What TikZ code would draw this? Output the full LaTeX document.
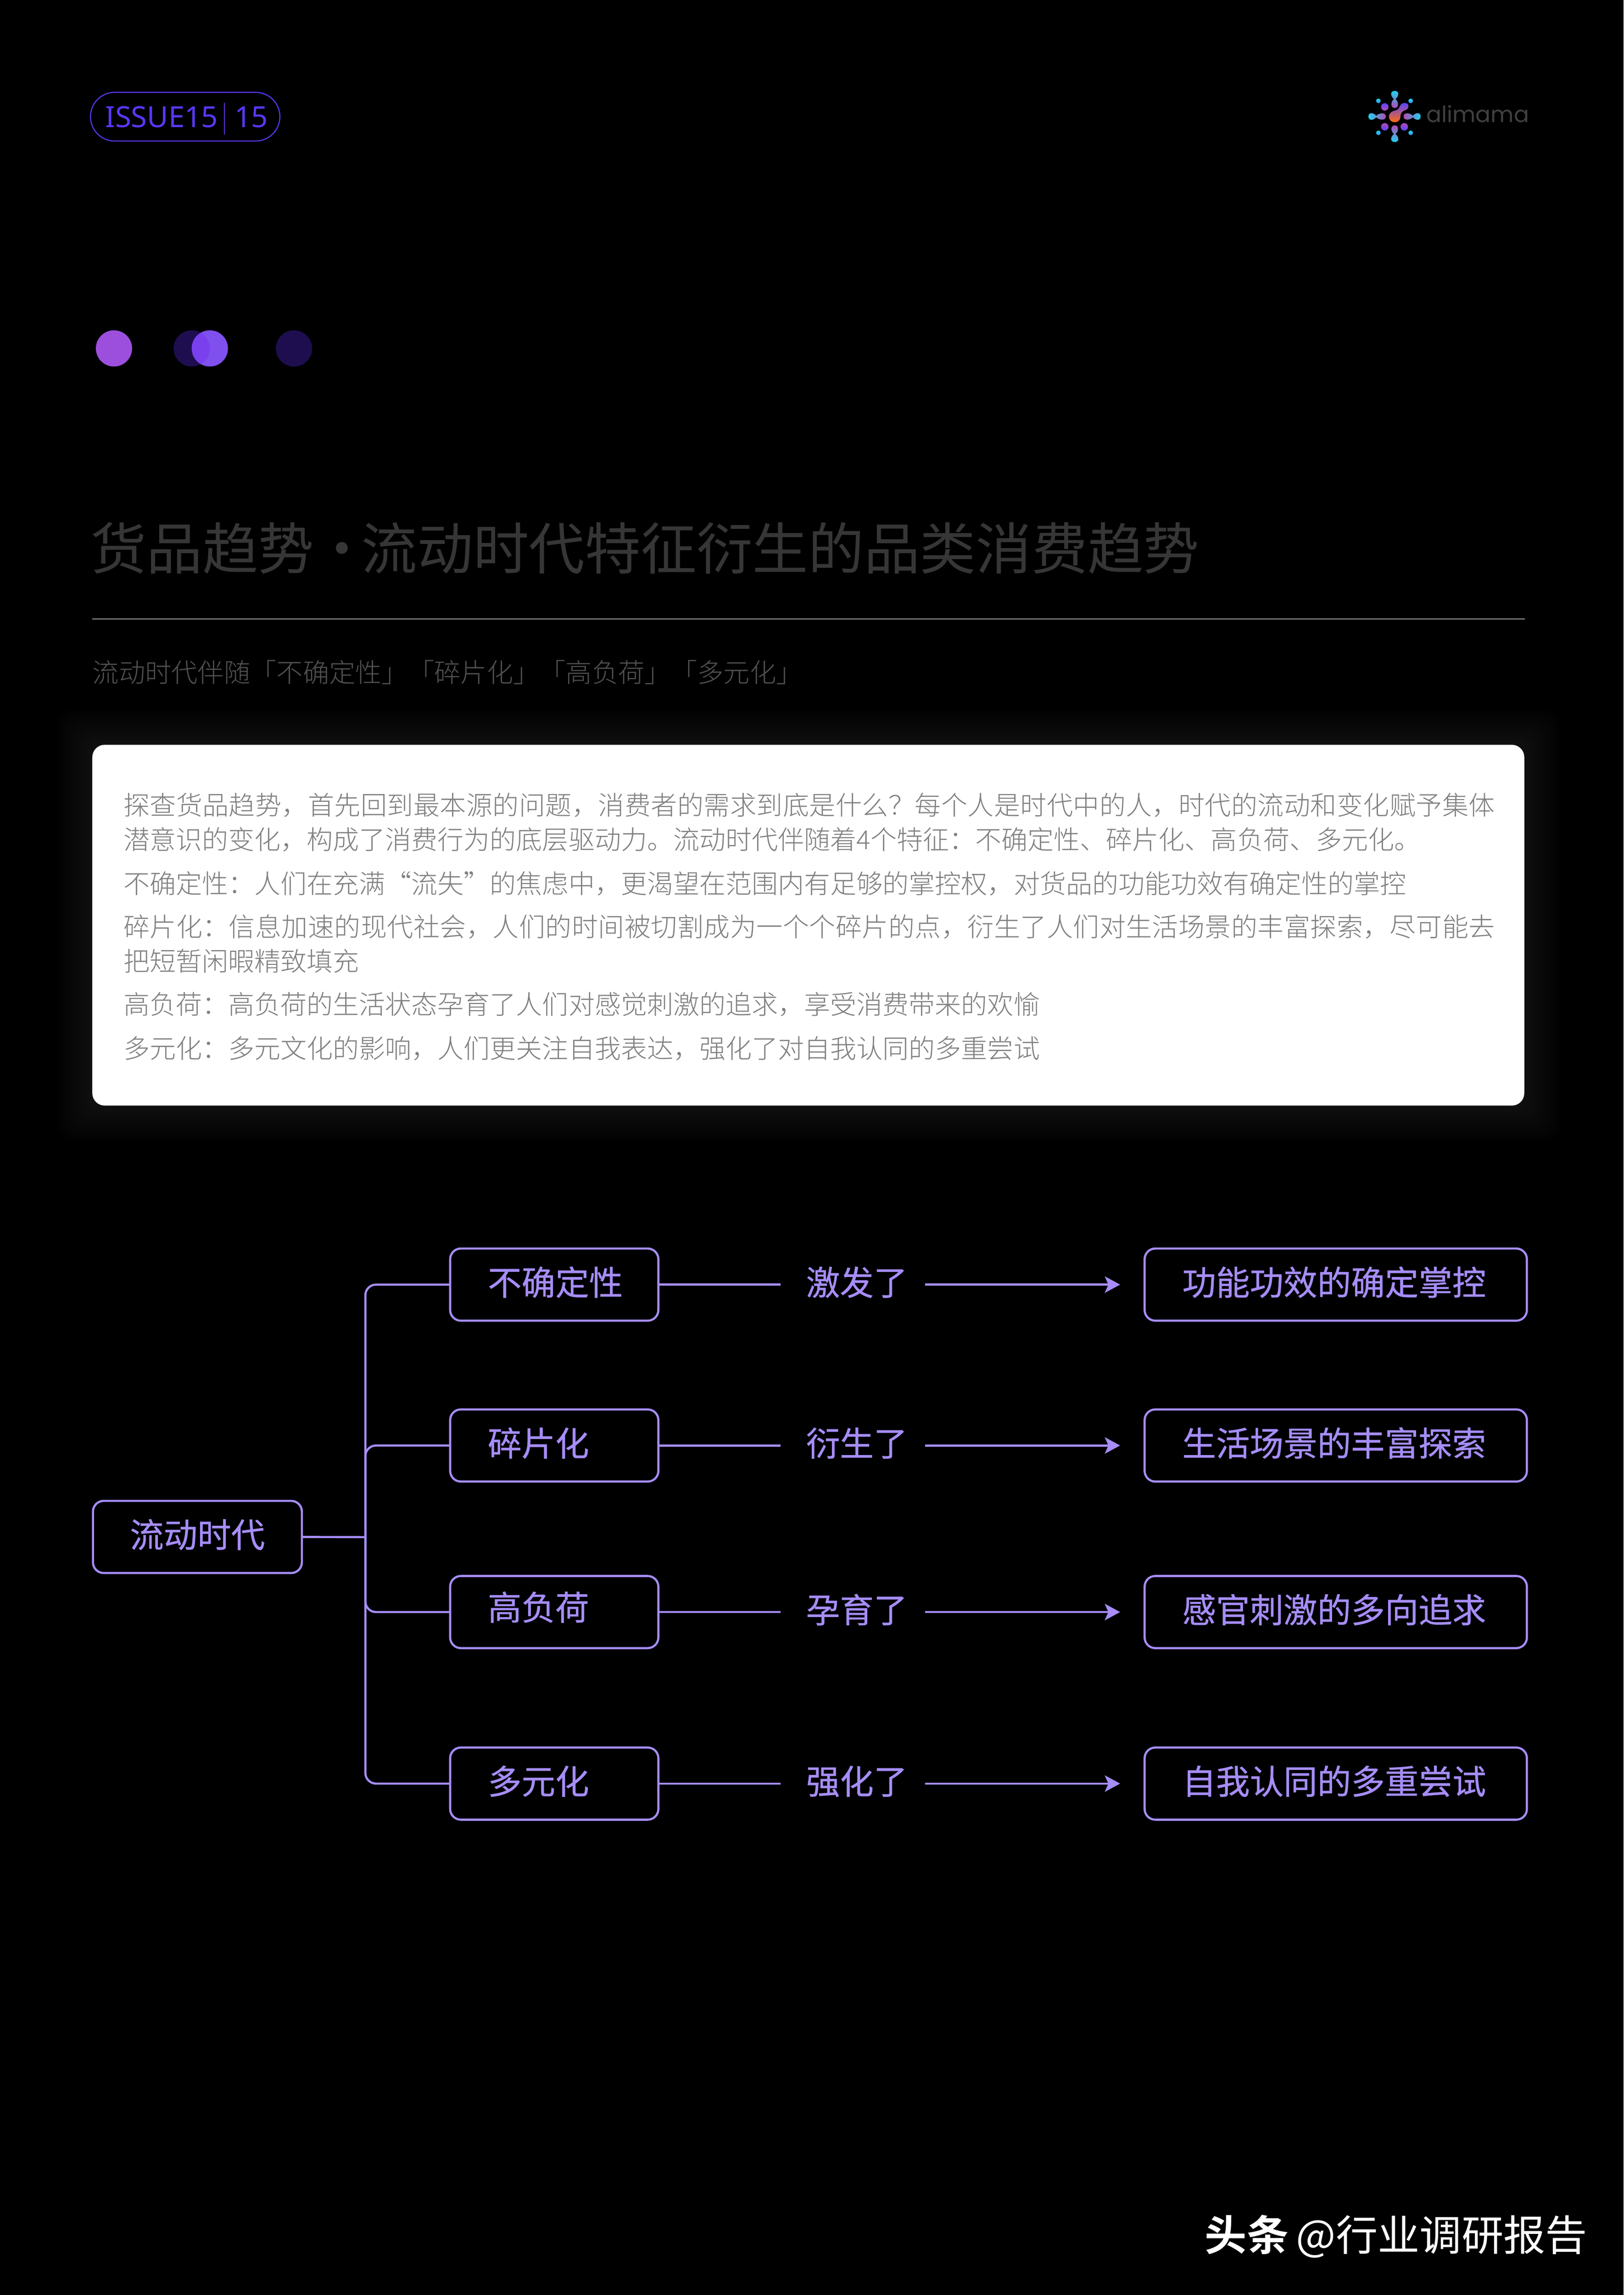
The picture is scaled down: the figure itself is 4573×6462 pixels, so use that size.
\documentclass[tikz,border=0pt]{standalone}
\usepackage{fontspec}
\usetikzlibrary{arrows.meta,calc}
\setmainfont{Noto Sans CJK SC}
\newfontfamily\cjklight{Noto Sans CJK SC Light}
\newfontfamily\cjkjust[LetterSpace=0.75]{Noto Sans CJK SC Light}
\newfontfamily\cjklabel[FakeBold=0.6]{Noto Sans CJK SC}
\newfontfamily\cjkbold{Noto Sans CJK SC Bold}
\newfontfamily\latinsans{Noto Sans}
\newfontfamily\logofont{Poppins}
\definecolor{pv}{HTML}{A68DF8}
\definecolor{issue}{HTML}{5A36F4}
\definecolor{bodygray}{HTML}{808080}
\definecolor{titlegray}{HTML}{363636}
\definecolor{subgray}{HTML}{505050}
\definecolor{rulegray}{HTML}{6E6E6E}
\definecolor{logotextgray}{HTML}{404040}
\definecolor{cyanl}{HTML}{1FD2EE}
\definecolor{cyanb}{HTML}{2FA0FF}
\definecolor{midv}{HTML}{5A45FF}
\definecolor{magv}{HTML}{B04AB4}
\definecolor{orangec}{HTML}{FF6A10}
\definecolor{dotpink}{HTML}{9C4FDC}
\definecolor{dotdark}{HTML}{1E0E50}
\definecolor{dotviolet}{HTML}{8050EE}
\definecolor{dotmix}{HTML}{7A40EE}
\newcommand{\fs}[1]{\fontsize{#1cm}{#1cm}\selectfont}
\tikzset{
  flowbox/.style={draw=pv,line width=0.06cm,rounded corners=0.3cm,inner sep=0pt,outer sep=0pt,
    text=pv,text width=#1,text height=1.31cm,text depth=0.72cm,align=left,font=\cjklabel\fs{0.95}},
  midlabel/.style={inner sep=0pt,outer sep=0pt,minimum width=4.06cm,text=pv,font=\cjklabel\fs{0.95},
    text height=1.31cm,text depth=0.72cm,align=center},
  plainline/.style={draw=pv,line width=0.06cm},
  branch/.style={draw=pv,line width=0.06cm,rounded corners=0.3cm},
  flowarrow/.style={draw=pv,line width=0.06cm,shorten >=0.69cm,-{Stealth[length=0.43cm,width=0.46cm,inset=0.1cm]}},
  bodyline/.style={anchor=base west,inner sep=0pt,text=bodygray,font=\cjklight\fs{0.737}},
  justline/.style={anchor=base west,inner sep=0pt,text=bodygray,font=\cjkjust\fs{0.737}}
}
\begin{document}
\begin{tikzpicture}[x=0.01cm,y=-0.01cm]
\useasboundingbox (0,0) rectangle (4573,6462);
\fill[black] (0,0) rectangle (4573,6462);

% header pill
\node[draw=issue,line width=0.03cm,rounded corners=0.68cm,minimum width=5.33cm,minimum height=1.37cm,inner sep=0pt] (pill) at (521.5,328.5) {};
\node[anchor=base west,inner sep=0pt,text=issue,font=\latinsans\fs{0.82}] (issuetext) at (296,358) {ISSUE15};
\node[anchor=base west,inner sep=0pt,text=issue,font=\latinsans\fs{0.82}] (issuenum) at (660,358) {15};
\draw[issue,line width=0.03cm] (632,289) -- (632,379);

% logo
\foreach \x/\y in {3882/284,3973/284,3882/374,3973/374}
  \shade[top color=cyanl,bottom color=cyanb] (\x,\y) circle (6.5);
\shade[top color=midv,bottom color=magv] (3900,301) circle (10.5);
\shade[top color=magv,bottom color=midv] (3955,357) circle (10.5);
\shade[top color=magv,bottom color=midv] (3900,357) circle (10.5);
% top dumbbell
\shade[top color=cyanl,middle color=midv,bottom color=magv]
  (3928,256) .. controls (3941,256) and (3941,270) .. (3930,279)
  .. controls (3939,285) and (3941,304) .. (3928,304)
  .. controls (3915,304) and (3917,285) .. (3926,279)
  .. controls (3915,270) and (3915,256) .. (3928,256) -- cycle;
% bottom dumbbell
\shade[top color=magv,middle color=midv,bottom color=cyanl]
  (3928,400) .. controls (3941,400) and (3941,386) .. (3930,377)
  .. controls (3939,371) and (3941,353) .. (3928,353)
  .. controls (3915,353) and (3917,371) .. (3926,377)
  .. controls (3915,386) and (3915,400) .. (3928,400) -- cycle;
% left dumbbell
\shade[left color=cyanl,middle color=midv,right color=magv]
  (3854,328) .. controls (3854,316) and (3868,316) .. (3876,326)
  .. controls (3883,318) and (3903,315) .. (3903,328)
  .. controls (3903,341) and (3883,338) .. (3876,330)
  .. controls (3868,340) and (3854,340) .. (3854,328) -- cycle;
% right dumbbell
\shade[left color=magv,middle color=midv,right color=cyanl]
  (4001,328) .. controls (4001,316) and (3987,316) .. (3979,326)
  .. controls (3972,318) and (3953,315) .. (3953,328)
  .. controls (3953,341) and (3972,338) .. (3979,330)
  .. controls (3987,340) and (4001,340) .. (4001,328) -- cycle;
% centre blob
\shade[top color=midv,middle color=orangec,bottom color=orangec]
  (3956,290) .. controls (3970,290) and (3970,306) .. (3958,310)
  .. controls (3948,314) and (3945,318) .. (3944,328)
  .. controls (3944,338) and (3938,344) .. (3928,344)
  .. controls (3918,344) and (3912,338) .. (3912,328)
  .. controls (3912,318) and (3920,313) .. (3930,311)
  .. controls (3938,309) and (3940,305) .. (3943,298)
  .. controls (3946,292) and (3950,290) .. (3956,290) -- cycle;
\node[anchor=base west,inner sep=0pt,text=logotextgray,font=\logofont\fs{0.63}] (logotext) at (4017,345) {alimama};

% dots
\fill[dotpink] (321,981) circle (51);
\fill[dotdark] (540,981) circle (51);
\fill[dotviolet] (591,981) circle (51);
\begin{scope}
\clip (540,981) circle (51);
\fill[dotmix] (591,981) circle (51);
\end{scope}
\fill[dotdark] (828,981) circle (51);

% title
\node[anchor=base west,inner sep=0pt,text=titlegray,font=\fs{1.572}] (title) at (255,1603) {货品趋势·\hspace{-0.24cm}流动时代特征衍生的品类消费趋势};
\draw[rulegray,line width=0.04cm] (260,1743) -- (4294,1743);
\node[anchor=base west,inner sep=0pt,text=subgray,font=\cjklight\fs{0.74}] (subtitle) at (260,1921) {流动时代伴随「不确定性」「碎片化」「高负荷」「多元化」};

% card glow
\foreach \i in {1,...,14}
  \fill[white,opacity=0.007,rounded corners=0.4cm] ({260-7*\i},{2097-7*\i}) rectangle ({4293+7*\i},{3113+7*\i});
\fill[white,rounded corners=0.35cm] (260,2097) rectangle (4293,3113);

% body text
\node[justline] (t1) at (347,2295) {探查货品趋势，首先回到最本源的问题，消费者的需求到底是什么？每个人是时代中的人，时代的流动和变化赋予集体};
\node[bodyline] (t2) at (347,2392) {潜意识的变化，构成了消费行为的底层驱动力。流动时代伴随着4个特征：不确定性、碎片化、高负荷、多元化。};
\node[bodyline] (t3) at (347,2515) {不确定性：人们在充满“流失”的焦虑中，更渴望在范围内有足够的掌控权，对货品的功能功效有确定性的掌控};
\node[justline] (t4) at (347,2637) {碎片化：信息加速的现代社会，人们的时间被切割成为一个个碎片的点，衍生了人们对生活场景的丰富探索，尽可能去};
\node[bodyline] (t5) at (347,2734) {把短暂闲暇精致填充};
\node[bodyline] (t6) at (347,2856) {高负荷：高负荷的生活状态孕育了人们对感觉刺激的追求，享受消费带来的欢愉};
\node[bodyline] (t7) at (347,2980) {多元化：多元文化的影响，人们更关注自我表达，强化了对自我认同的多重尝试};

% flow
\node[flowbox=5.88cm] (root) at (556,4327.5) {\hspace*{1.04cm}流动时代};
\foreach \n/\y/\r/\a/\m/\b in {
  1/3617/0/不确定性/激发了/功能功效的确定掌控,
  2/4070/0/碎片化/衍生了/生活场景的丰富探索,
  3/4539/0.07/高负荷/孕育了/感官刺激的多向追求,
  4/5022/0/多元化/强化了/自我认同的多重尝试}{
  \node[flowbox=5.86cm] (a\n) at (1561,\y) {\hspace*{1.06cm}\raisebox{\r cm}{\a}};
  \node[midlabel] (m\n) at (2402,\y) {\hspace*{0.22cm}\m};
  \node[flowbox=10.76cm] (b\n) at (3762,\y) {\hspace*{1.06cm}\b};
  \draw[plainline] (a\n.east) -- (m\n.west);
  \draw[flowarrow] (m\n.east) -- (b\n.west);
}
\coordinate (hub) at (1029,4328);
\draw[plainline] (root.east) -- (hub);
\draw[branch] (a1.west) -| (hub);
\draw[branch] (a2.west) -| (hub);
\draw[branch] (a3.west) -| (hub);
\draw[branch] (a4.west) -| (hub);

% watermark
\node[anchor=base west,inner sep=0pt,text=white,font=\cjkbold\fs{1.18}] (wm1) at (3393,6337) {头条};
\node[anchor=base west,inner sep=0pt,text=white,font=\fs{1.18}] (wm2) at (3650,6337) {@行业调研报告};
\end{tikzpicture}
\end{document}
